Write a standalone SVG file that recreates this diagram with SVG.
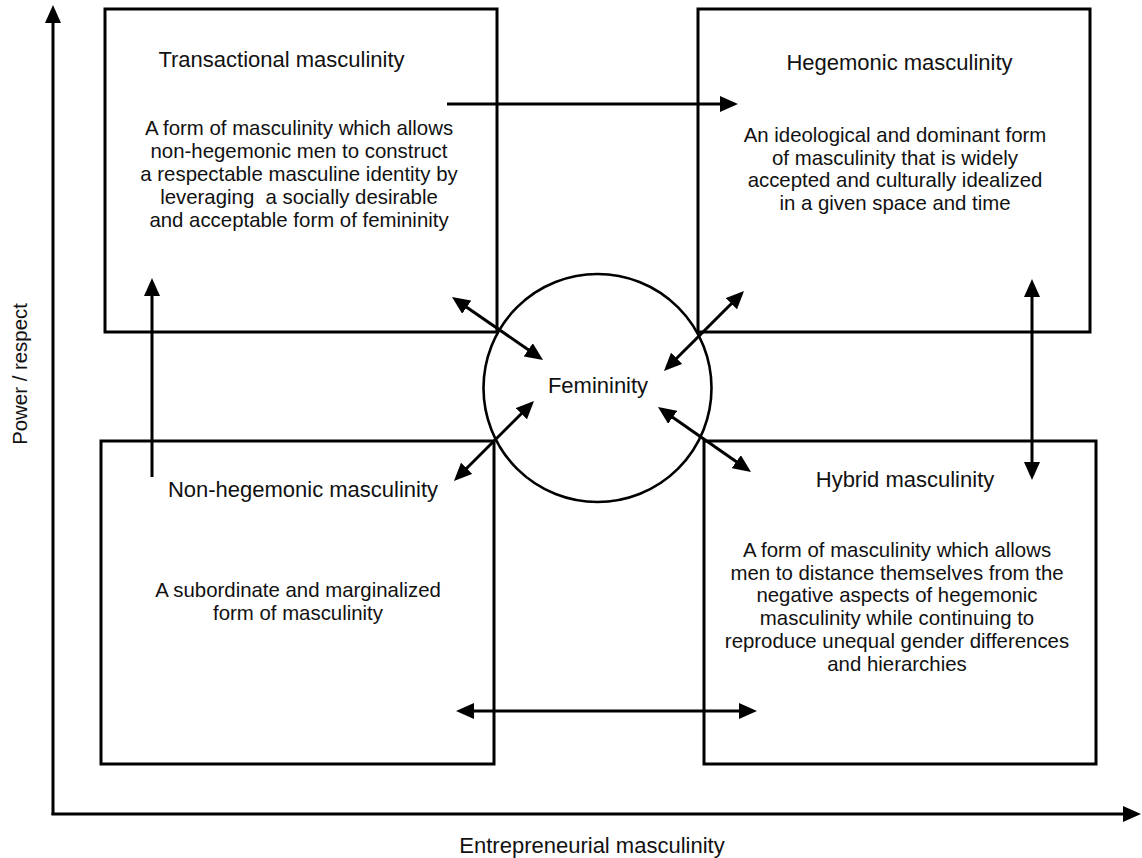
<svg xmlns="http://www.w3.org/2000/svg" width="1142" height="858" viewBox="0 0 1142 858">
<style>
.box{fill:none;stroke:#000;stroke-width:3}
.ln{fill:none;stroke:#000;stroke-width:3}
.t{font-family:"Liberation Sans",Arial,sans-serif;font-size:22px;fill:#111;text-anchor:middle}
.b{font-family:"Liberation Sans",Arial,sans-serif;font-size:20.4px;fill:#111;text-anchor:middle;white-space:pre}
</style>
<defs>
<marker id="ah" viewBox="0 0 18 16" markerWidth="18" markerHeight="16" refX="12" refY="8" markerUnits="userSpaceOnUse" orient="auto-start-reverse">
<path d="M0,0 L18,8 L0,16 z" fill="#000"/>
</marker>
</defs>
<rect width="1142" height="858" fill="#fff"/>
<g id="axes">
<line class="ln" x1="53" y1="815" x2="53" y2="11" marker-end="url(#ah)"/>
<line class="ln" x1="51.5" y1="814" x2="1135" y2="814" marker-end="url(#ah)"/>
<text class="t" x="592" y="853">Entrepreneurial masculinity</text>
<text class="b" transform="translate(27,374) rotate(-90)">Power / respect</text>
</g>
<g id="transactional">
<rect class="box" x="105" y="9" width="392" height="323"/>
<text class="t" x="281.5" y="67">Transactional masculinity</text>
<text class="b" x="299" y="135">A form of masculinity which allows</text>
<text class="b" x="299" y="158">non-hegemonic men to construct</text>
<text class="b" x="299" y="181">a respectable masculine identity by</text>
<text class="b" x="299" y="204">leveraging  a socially desirable</text>
<text class="b" x="299" y="227">and acceptable form of femininity</text>
</g>
<g id="hegemonic">
<rect class="box" x="698" y="9" width="392" height="323"/>
<text class="t" x="899.5" y="70">Hegemonic masculinity</text>
<text class="b" x="895" y="142">An ideological and dominant form</text>
<text class="b" x="895" y="164.5">of masculinity that is widely</text>
<text class="b" x="895" y="187.3">accepted and culturally idealized</text>
<text class="b" x="895" y="210">in a given space and time</text>
</g>
<g id="nonhegemonic">
<rect class="box" x="101" y="441" width="393" height="323"/>
<text class="t" x="303" y="497">Non-hegemonic masculinity</text>
<text class="b" x="298" y="597">A subordinate and marginalized</text>
<text class="b" x="298" y="619.5">form of masculinity</text>
</g>
<g id="hybrid">
<rect class="box" x="704" y="441" width="392" height="323"/>
<text class="t" x="905" y="487">Hybrid masculinity</text>
<text class="b" x="897" y="557">A form of masculinity which allows</text>
<text class="b" x="897" y="579.7">men to distance themselves from the</text>
<text class="b" x="897" y="602.4">negative aspects of hegemonic</text>
<text class="b" x="897" y="625.1">masculinity while continuing to</text>
<text class="b" x="897" y="647.8">reproduce unequal gender differences</text>
<text class="b" x="897" y="670.5">and hierarchies</text>
</g>
<g id="femininity">
<circle cx="597.5" cy="388" r="114" fill="none" stroke="#000" stroke-width="2.6"/>
<text class="t" x="598" y="393">Femininity</text>
</g>
<g id="connectors">
<line class="ln" x1="447" y1="104" x2="732" y2="104" marker-end="url(#ah)"/>
<line class="ln" x1="152" y1="477" x2="152" y2="284" marker-end="url(#ah)"/>
<line class="ln" x1="1032" y1="285" x2="1032" y2="474" marker-start="url(#ah)" marker-end="url(#ah)"/>
<line class="ln" x1="462" y1="711" x2="751" y2="711" marker-start="url(#ah)" marker-end="url(#ah)"/>
<line class="ln" x1="456.9" y1="300.4" x2="538.1" y2="356.6" marker-start="url(#ah)" marker-end="url(#ah)"/>
<line class="ln" x1="739.8" y1="295.2" x2="668.2" y2="366.8" marker-start="url(#ah)" marker-end="url(#ah)"/>
<line class="ln" x1="529.8" y1="405.2" x2="458.2" y2="476.8" marker-start="url(#ah)" marker-end="url(#ah)"/>
<line class="ln" x1="662.9" y1="410.4" x2="746.1" y2="468.6" marker-start="url(#ah)" marker-end="url(#ah)"/>
</g>
</svg>
